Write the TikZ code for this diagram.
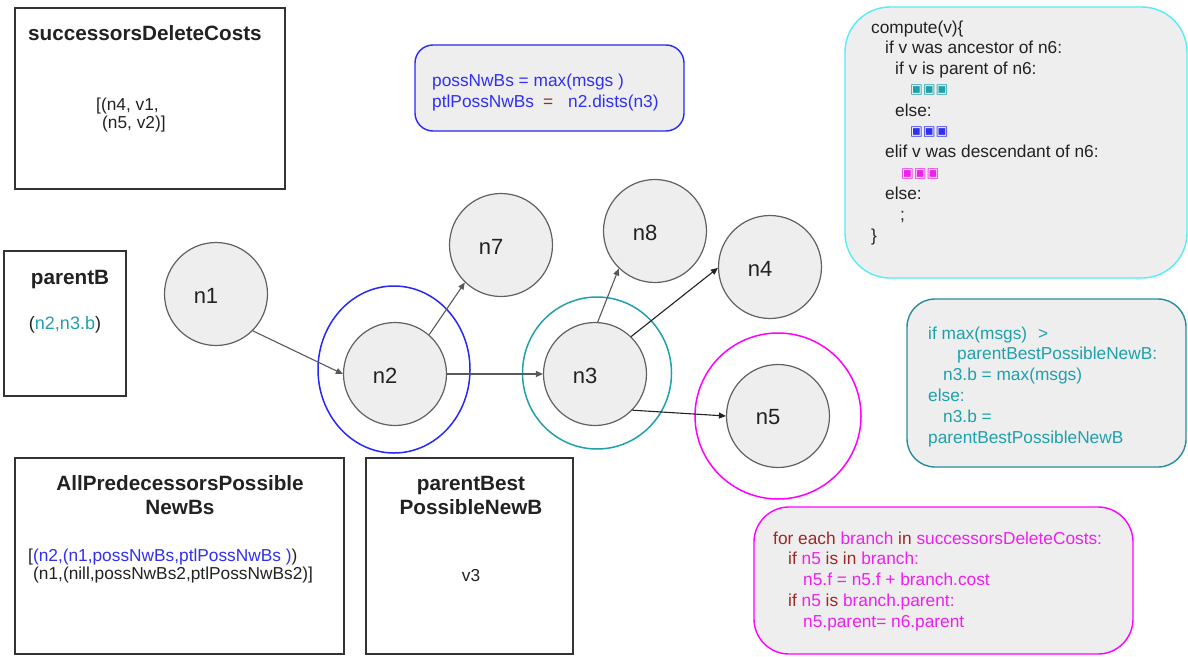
\documentclass[tikz,border=0pt]{standalone}
\usepackage{fontspec}
\setmainfont{Liberation Sans}
\newfontfamily\symfont{DejaVu Sans}
\usetikzlibrary{arrows.meta}

\definecolor{nodefill}{HTML}{EEEEEE}
\definecolor{nodeedge}{HTML}{616161}
\definecolor{boxedge}{HTML}{333333}
\definecolor{ink}{HTML}{222222}
\definecolor{bluec}{RGB}{48,48,238}
\definecolor{bluering}{RGB}{40,40,245}
\definecolor{tealc}{RGB}{32,160,170}
\definecolor{tealedge}{RGB}{40,140,155}
\definecolor{cyanc}{RGB}{85,238,242}
\definecolor{magc}{RGB}{240,30,240}
\definecolor{magring}{RGB}{255,0,255}
\definecolor{redc}{RGB}{155,40,40}
\definecolor{arrowgray}{HTML}{5A5A5A}

% coloured placeholder marks and two text colours used in the code boxes
\newcommand\sqs[1]{\raisebox{1.5pt}{\color{#1}\symfont\fontsize{13.5}{13.5}\selectfont ▣▣▣}}
\newcommand\rd[1]{\textcolor{redc}{#1}}
\newcommand\mg[1]{\textcolor{magc}{#1}}

\tikzset{
  vert/.style={circle, draw=nodeedge, fill=nodefill, line width=1.2pt,
    minimum size=103pt, inner sep=0pt},
  vlabel/.style={font=\fontsize{22}{26}\selectfont, text=ink, xshift=-10pt, yshift=-1.5pt},
  edge/.style={draw=arrowgray, line width=1.1pt, -{Triangle[length=7pt,width=6pt]}},
  darkedge/.style={edge, draw=ink},
  ringline/.style={line width=1.5pt},
  plainbox/.style={draw=boxedge, fill=white, line width=1.2pt, inner sep=0pt},
  codebox/.style={fill=nodefill, line width=1.4pt, inner sep=0pt, rounded corners=#1},
  code/.style={inner sep=0pt, anchor=base west, font=\fontsize{17.3}{20.8}\selectfont, text=ink},
  content/.style={inner sep=0pt, font=\fontsize{17.3}{18.6}\selectfont, text=ink},
  heading/.style={inner sep=0pt, anchor=base, font=\bfseries\fontsize{20.7}{24}\selectfont, text=ink},
}

\begin{document}
\begin{tikzpicture}[x=1pt, y=-1pt]
\useasboundingbox (0,0) rectangle (1188,656);
\fill[white] (0,0) rectangle (1188,656);

% ---- plain data boxes ----
\node[plainbox, minimum width=270pt, minimum height=181pt] (sdcbox) at (150,98.5) {};
\node[heading] (sdchead) at (145,40.5) {successorsDeleteCosts};
\node[content, anchor=base west] (sdctext) at (96,110)
  {\begin{tabular}[t]{@{}l@{}}[(n4, v1,\\ \hspace*{6pt}(n5, v2)]\end{tabular}};

\node[plainbox, minimum width=122pt, minimum height=145pt] (pbbox) at (65,323.5) {};
\node[heading] (pbhead) at (70,284.5) {parentB};
\node[content, anchor=base, font=\fontsize{18}{20}\selectfont] (pbtext) at (65,329.5)
  {(\textcolor{tealc}{n2,n3.b})};

\node[plainbox, minimum width=329pt, minimum height=196pt] (apbox) at (179.5,556) {};
\node[heading] (aphead) at (180,490.5)
  {\begin{tabular}[t]{@{}c@{}}AllPredecessorsPossible\\NewBs\end{tabular}};
\node[content, anchor=base west] (aptext) at (28,561)
  {\begin{tabular}[t]{@{}l@{}}[\textcolor{bluec}{(n2,(n1,possNwBs,ptlPossNwBs )})\\
   \hspace*{5pt}(n1,(nill,possNwBs2,ptlPossNwBs2)]\end{tabular}};

\node[plainbox, minimum width=207pt, minimum height=196pt] (pbnbox) at (469.5,556) {};
\node[heading] (pbnhead) at (471,490.5)
  {\begin{tabular}[t]{@{}c@{}}parentBest\\PossibleNewB\end{tabular}};
\node[content, anchor=base] (pbntext) at (471,581) {v3};

% ---- rounded code boxes ----
\node[codebox=18pt, draw=bluering, minimum width=269pt, minimum height=86pt] (pnbox) at (549.5,88) {};
\node[code, font=\fontsize{17.3}{21.5}\selectfont, text=bluec] (pntext) at (432,86)
  {\begin{tabular}[t]{@{}l@{}}possNwBs = max(msgs )\\
   ptlPossNwBs\hspace{9pt}\rd{=}\hspace{15pt}n2.dists(n3)\end{tabular}};

\node[codebox=45pt, draw=cyanc, minimum width=342pt, minimum height=271pt] (cpbox) at (1016,142.5) {};
\node[code] (cptext) at (871,33)
  {\begin{tabular}[t]{@{}l@{}}
   compute(v)\{\\
   \hspace*{14pt}if v was ancestor of n6:\\
   \hspace*{24pt}if v is parent of n6:\\
   \hspace*{39pt}\sqs{tealc}\\
   \hspace*{24pt}else:\\
   \hspace*{39pt}\sqs{bluec}\\
   \hspace*{14pt}elif v was descendant of n6:\\
   \hspace*{30pt}\sqs{magc}\\
   \hspace*{14pt}else:\\
   \hspace*{29pt};\\
   \}
   \end{tabular}};

\node[codebox=28pt, draw=tealedge, minimum width=279pt, minimum height=168pt] (nbbox) at (1046.5,383) {};
\node[code, text=tealc] (nbtext) at (928,339)
  {\begin{tabular}[t]{@{}l@{}}
   if max(msgs)\hspace{11pt}>\\
   \hspace*{29pt}parentBestPossibleNewB:\\
   \hspace*{15pt}n3.b = max(msgs)\\
   else:\\
   \hspace*{15pt}n3.b =\\
   parentBestPossibleNewB
   \end{tabular}};

\node[codebox=35pt, draw=magring, minimum width=379pt, minimum height=147pt] (febox) at (943.5,580.5) {};
\node[code] (fetext) at (773,544)
  {\begin{tabular}[t]{@{}l@{}}
   \rd{for each} \mg{branch} \rd{in} \mg{successorsDeleteCosts:}\\
   \hspace*{15pt}\rd{if} \mg{n5} \rd{is in} \mg{branch:}\\
   \hspace*{30pt}\mg{n5.f = n5.f + branch.cost}\\
   \hspace*{15pt}\rd{if} \mg{n5} \rd{is} \mg{branch.parent:}\\
   \hspace*{30pt}\mg{n5.parent= n6.parent}
   \end{tabular}};

% ---- rings marking n2, n3 and n5 ----
\draw[ringline, bluering] (394,369.5) ellipse [x radius=76, y radius=83.5];
\draw[ringline, tealc] (597,373) ellipse [x radius=74.5, y radius=76];
\draw[ringline, magring] (778,416) circle [radius=83];

% ---- graph nodes ----
\node[vert, label={[vlabel]center:n1}] (n1) at (216,294) {};
\node[vert, label={[vlabel]center:n2}] (n2) at (395,374) {};
\node[vert, label={[vlabel]center:n7}] (n7) at (501,245) {};
\node[vert, label={[vlabel]center:n3}] (n3) at (595,374) {};
\node[vert, label={[vlabel]center:n8}] (n8) at (655,231) {};
\node[vert, label={[vlabel]center:n4}] (n4) at (770,267) {};
\node[vert, label={[vlabel]center:n5}] (n5) at (778,416) {};

% ---- edges ----
\draw[edge] (n1.-45) -- (n2.west);
\draw[edge] (n2.49) -- (n7.226);
\draw[edge] (n2.east) -- (n3.west);
\draw[edge] (n3.87) -- (n8.226);
\draw[darkedge] (n3.46) -- (n4.181);
\draw[darkedge] (n3.-44) -- (n5.west);
\end{tikzpicture}
\end{document}
